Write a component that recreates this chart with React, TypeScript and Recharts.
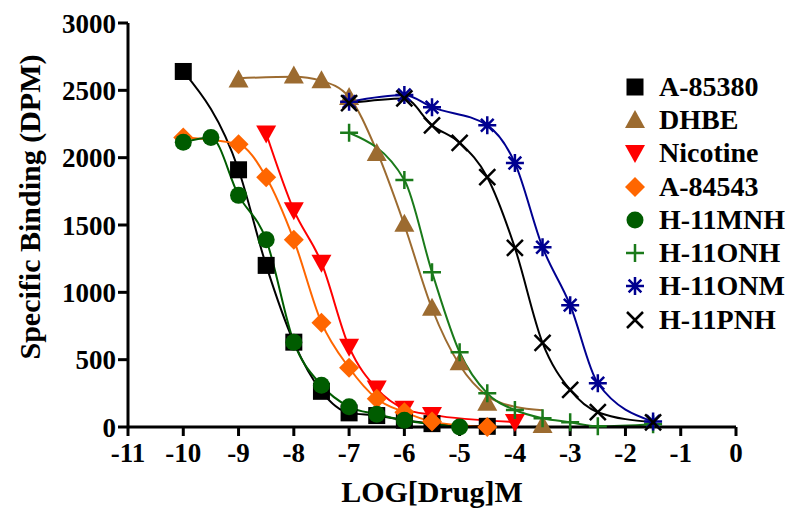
import React from 'react';
import { ComposedChart, Line, Scatter, XAxis, YAxis, Legend } from 'recharts';

type Pt = { x: number; y: number };

const xTicks = [-11, -10, -9, -8, -7, -6, -5, -4, -3, -2, -1, 0];
const yTicks = [0, 500, 1000, 1500, 2000, 2500, 3000];

// markers
const a85380: Pt[] = [
  { x: -10, y: 2640 }, { x: -9, y: 1910 }, { x: -8.5, y: 1200 }, { x: -8, y: 630 },
  { x: -7.5, y: 265 }, { x: -7, y: 105 }, { x: -6.5, y: 85 }, { x: -6, y: 50 },
  { x: -5.5, y: 25 }, { x: -4.5, y: 5 },
];
const dhbe: Pt[] = [
  { x: -9, y: 2580 }, { x: -8, y: 2610 }, { x: -7.5, y: 2575 }, { x: -7, y: 2450 },
  { x: -6.5, y: 2035 }, { x: -6, y: 1510 }, { x: -5.5, y: 885 }, { x: -5, y: 480 },
  { x: -4.5, y: 180 }, { x: -3.5, y: 15 },
];
const dhbeCurve: Pt[] = [
  { x: -9, y: 2590 }, { x: -8, y: 2600 }, { x: -7.5, y: 2570 }, { x: -7, y: 2450 },
  { x: -6.5, y: 2050 }, { x: -6, y: 1500 }, { x: -5.5, y: 880 }, { x: -5, y: 460 },
  { x: -4.5, y: 230 }, { x: -4, y: 150 }, { x: -3.5, y: 125 },
];
const nicotine: Pt[] = [
  { x: -8.5, y: 2180 }, { x: -8, y: 1610 }, { x: -7.5, y: 1220 }, { x: -7, y: 595 },
  { x: -6.5, y: 285 }, { x: -6, y: 135 }, { x: -5.5, y: 90 }, { x: -4, y: 37 },
];
const a84543: Pt[] = [
  { x: -10, y: 2150 }, { x: -9, y: 2100 }, { x: -8.5, y: 1855 }, { x: -8, y: 1390 },
  { x: -7.5, y: 775 }, { x: -7, y: 440 }, { x: -6.5, y: 210 }, { x: -6, y: 110 },
  { x: -5.5, y: 40 }, { x: -4.5, y: 0 },
];
const h11mnh: Pt[] = [
  { x: -10, y: 2115 }, { x: -9.5, y: 2150 }, { x: -9, y: 1720 }, { x: -8.5, y: 1390 },
  { x: -8, y: 630 }, { x: -7.5, y: 310 }, { x: -7, y: 150 }, { x: -6.5, y: 95 },
  { x: -6, y: 50 }, { x: -5, y: 0 },
];
const h11onh: Pt[] = [
  { x: -7, y: 2185 }, { x: -6, y: 1835 }, { x: -5.5, y: 1150 }, { x: -5, y: 555 },
  { x: -4.5, y: 250 }, { x: -4, y: 126 }, { x: -3.5, y: 65 }, { x: -3, y: 35 },
  { x: -2.5, y: 5 }, { x: -1.5, y: 20 },
];
const h11onm: Pt[] = [
  { x: -7, y: 2415 }, { x: -6, y: 2465 }, { x: -5.5, y: 2375 }, { x: -4.5, y: 2240 },
  { x: -4, y: 1960 }, { x: -3.5, y: 1335 }, { x: -3, y: 905 }, { x: -2.5, y: 325 },
  { x: -1.5, y: 40 },
];
const h11pnh: Pt[] = [
  { x: -7, y: 2405 }, { x: -6, y: 2440 }, { x: -5.5, y: 2240 }, { x: -5, y: 2110 },
  { x: -4.5, y: 1855 }, { x: -4, y: 1330 }, { x: -3.5, y: 625 }, { x: -3, y: 275 },
  { x: -2.5, y: 110 }, { x: -1.5, y: 35 },
];

type Kind = 'square' | 'up' | 'down' | 'diamond' | 'circle' | 'plus' | 'star' | 'x';

const series: { name: string; color: string; kind: Kind; pts: Pt[]; curve?: Pt[] }[] = [
  { name: 'A-85380', color: '#000000', kind: 'square', pts: a85380 },
  { name: 'DHBE', color: '#9c6b30', kind: 'up', pts: dhbe, curve: dhbeCurve },
  { name: 'Nicotine', color: '#ff0000', kind: 'down', pts: nicotine },
  { name: 'A-84543', color: '#ff6600', kind: 'diamond', pts: a84543 },
  { name: 'H-11MNH', color: '#005c00', kind: 'circle', pts: h11mnh },
  { name: 'H-11ONH', color: '#1a7a1a', kind: 'plus', pts: h11onh },
  { name: 'H-11ONM', color: '#000090', kind: 'star', pts: h11onm },
  { name: 'H-11PNH', color: '#000000', kind: 'x', pts: h11pnh },
];

const font = '"Liberation Serif", "Times New Roman", serif';

function Marker({ kind, cx, cy, color }: { kind: Kind; cx: number; cy: number; color: string }) {
  switch (kind) {
    case 'square':
      return <rect x={cx - 8.5} y={cy - 8.5} width={17} height={17} fill={color} />;
    case 'up':
      return <path d={`M${cx},${cy - 10}L${cx + 10},${cy + 8}L${cx - 10},${cy + 8}Z`} fill={color} />;
    case 'down':
      return <path d={`M${cx - 10},${cy - 8}L${cx + 10},${cy - 8}L${cx},${cy + 10}Z`} fill={color} />;
    case 'diamond':
      return <path d={`M${cx},${cy - 10}L${cx + 10},${cy}L${cx},${cy + 10}L${cx - 10},${cy}Z`} fill={color} />;
    case 'circle':
      return <circle cx={cx} cy={cy} r={8.5} fill={color} />;
    case 'plus':
      return (
        <path d={`M${cx - 9},${cy}H${cx + 9}M${cx},${cy - 9}V${cy + 9}`} stroke={color} strokeWidth={2.5} fill="none" />
      );
    case 'star': {
      const r = 9;
      const d = [0, 45, 90, 135]
        .map(a => {
          const dx = r * Math.cos((a * Math.PI) / 180);
          const dy = r * Math.sin((a * Math.PI) / 180);
          return `M${cx - dx},${cy - dy}L${cx + dx},${cy + dy}`;
        })
        .join('');
      return <path d={d} stroke={color} strokeWidth={2.5} fill="none" />;
    }
    case 'x':
      return (
        <path
          d={`M${cx - 8},${cy - 8}L${cx + 8},${cy + 8}M${cx - 8},${cy + 8}L${cx + 8},${cy - 8}`}
          stroke={color}
          strokeWidth={2.5}
          fill="none"
        />
      );
  }
  return null;
}

function LegendBox() {
  return (
    <div style={{ fontFamily: font, fontWeight: 'bold', fontSize: 28, color: '#000', lineHeight: 1 }}>
      {series.map(s => (
        <div key={s.name} style={{ display: 'flex', alignItems: 'center', height: 33.3 }}>
          <svg width={24} height={24} style={{ marginRight: 12 }}>
            <Marker kind={s.kind} cx={12} cy={12} color={s.color} />
          </svg>
          <span style={{ whiteSpace: 'nowrap' }}>{s.name}</span>
        </div>
      ))}
    </div>
  );
}

const tickStyle = { fontFamily: font, fontWeight: 'bold' as const, fontSize: 27, fill: '#000' };

export default function App() {
  return (
    <div style={{ position: 'absolute', left: 0, top: 0, background: '#fff' }}>
      <ComposedChart width={797} height={517} margin={{ top: 23, right: 61, bottom: 30, left: 0 }}>
        <XAxis
          type="number"
          dataKey="x"
          domain={[-11, 0]}
          ticks={xTicks}
          interval={0}
          height={60}
          tick={tickStyle}
          tickSize={9}
          tickMargin={7}
          axisLine={{ stroke: '#000', strokeWidth: 3 }}
          tickLine={{ stroke: '#000', strokeWidth: 3 }}
          label={{
            content: () => (
              <text x={432} y={502} textAnchor="middle" style={{ ...tickStyle, fontSize: 30 }}>
                LOG[Drug]M
              </text>
            ),
          }}
        />
        <YAxis
          type="number"
          dataKey="y"
          domain={[0, 3000]}
          ticks={yTicks}
          interval={0}
          width={128}
          tick={tickStyle}
          tickSize={10}
          tickMargin={2}
          axisLine={{ stroke: '#000', strokeWidth: 3 }}
          tickLine={{ stroke: '#000', strokeWidth: 3 }}
          label={{
            content: () => (
              <text
                x={40}
                y={207}
                textAnchor="middle"
                transform="rotate(-90 40 207)"
                style={{ ...tickStyle, fontSize: 30 }}
              >
                Specific Binding (DPM)
              </text>
            ),
          }}
        />
        <Legend
          layout="vertical"
          align="center"
          verticalAlign="middle"
          wrapperStyle={{ left: 623, top: 70, width: 174 }}
          content={() => <LegendBox />}
        />
        {series.map(s => (
          <Line
            key={`line-${s.name}`}
            data={s.curve ?? s.pts}
            dataKey="y"
            type="monotone"
            stroke={s.color}
            strokeWidth={2}
            dot={false}
            activeDot={false}
            legendType="none"
            isAnimationActive={false}
          />
        ))}
        {series.map(s => (
          <Scatter
            key={`pts-${s.name}`}
            name={s.name}
            data={s.pts}
            dataKey="y"
            fill={s.color}
            isAnimationActive={false}
            shape={(p: any) => <Marker kind={s.kind} cx={p.cx} cy={p.cy} color={s.color} />}
          />
        ))}
      </ComposedChart>
    </div>
  );
}
